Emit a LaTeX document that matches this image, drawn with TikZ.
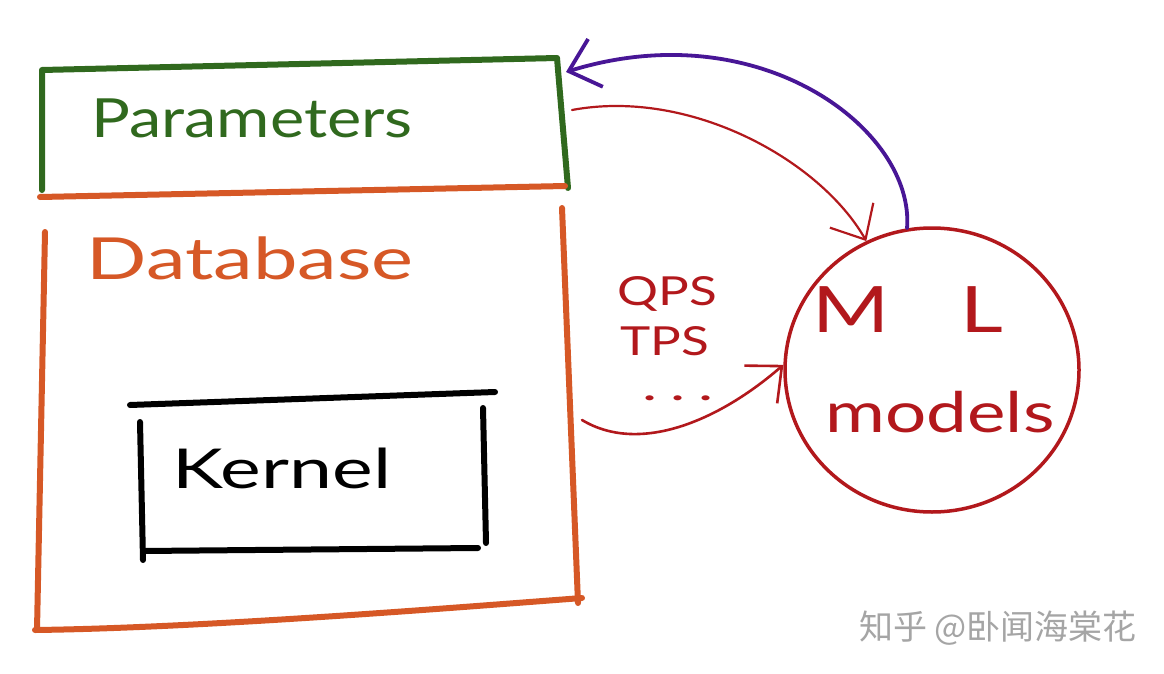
\documentclass[tikz,border=0pt]{standalone}
\usepackage{fontspec}
\setmainfont{Lato}
\newfontfamily\cjk{Noto Sans CJK SC}
\usetikzlibrary{arrows.meta,shapes.geometric}
\definecolor{pgreen}{RGB}{48,105,30}
\definecolor{dborange}{RGB}{214,88,38}
\definecolor{mlred}{RGB}{178,24,28}
\definecolor{purp}{RGB}{72,22,150}
\definecolor{wmgray}{RGB}{165,165,165}
\tikzset{
  hand/.style={line width=6pt, line cap=round, line join=round},
  arrowline/.style={line width=2.6pt, line cap=round, -{Straight Barb[length=28pt,width=50pt]}},
  label/.style={inner sep=0pt, anchor=center},
}
\begin{document}
\begin{tikzpicture}[x=1pt,y=-1pt]
\useasboundingbox[fill=white] (0,0) rectangle (1164,674);
% Parameters box
\coordinate (p1) at (42,70);
\coordinate (p2) at (557,58);
\coordinate (p3) at (568,188);
\coordinate (p4) at (42,190);
\draw[hand, pgreen] (p4) -- (p1) -- (p2) -- (p3);
\node[label, text=pgreen, font=\fontsize{54}{56}\selectfont] (ptext) at (252,118) {\scalebox{1.2}[1]{Parameters}};
% Database box
\coordinate (d1) at (40,197);
\coordinate (d2) at (565,186);
\coordinate (d3) at (562,208);
\coordinate (d4) at (578,603);
\coordinate (d5) at (37,630);
\draw[hand, dborange] (d2) -- (d1);
\draw[hand, dborange] (45,232) -- (d5);
\draw[hand, dborange] (d3) -- (d4);
\draw[hand, dborange] (35,630) .. controls (200,628) and (450,608) .. (582,598);
\node[label, text=dborange, font=\fontsize{58}{60}\selectfont] (dtext) at (250,258) {\scalebox{1.37}[1]{Database}};
% Kernel box
\draw[hand, black] (130,405) -- (495,392);
\draw[hand, black] (140,422) -- (143,560);
\draw[hand, black] (483,408) -- (486,543);
\draw[hand, black] (143,551) -- (478,548);
\node[label, text=black, font=\fontsize{55}{57}\selectfont] (ktext) at (282,468) {\scalebox{1.4}[1]{Kernel}};
% ML models circle
\node[ellipse, draw=mlred, line width=3.5pt, minimum width=294pt, minimum height=284pt, inner sep=0pt] (ml) at (932,370) {};
\node[label, text=mlred, font=\fontsize{64}{66}\selectfont] (mltext) at (908,310) {\scalebox{1.3}[1]{M\hspace{54pt}L}};
\node[label, text=mlred, font=\fontsize{56}{58}\selectfont] (modtext) at (940,412) {\scalebox{1.3}[1]{models}};
% QPS / TPS labels
\node[label, text=mlred, font=\fontsize{40}{42}\selectfont] (qps) at (667,294) {\scalebox{1.28}[1]{QPS}};
\node[label, text=mlred, font=\fontsize{40}{42}\selectfont] (tps) at (665,341) {\scalebox{1.28}[1]{TPS}};
\node[label, text=mlred, font=\fontsize{40}{42}\selectfont] (dots) at (678,398) {\scalebox{1.6}[1]{.\hspace{8pt}.\hspace{8pt}.}};
% Arrows
\coordinate (pin) at (566,72);
\coordinate (pout) at (572,110);
\coordinate (dout) at (582,420);
\draw[arrowline, purp, line width=3.8pt] (ml.100) .. controls (915,130) and (760,12) .. (pin);
\draw[arrowline, mlred, line width=2.2pt] (pout) .. controls (690,88) and (820,160) .. (ml.117);
\draw[arrowline, mlred] (dout) .. controls (640,455) and (720,420) .. (ml.178);
% Watermark
\node[label, text=wmgray, font=\cjk\fontsize{34}{36}\selectfont] (wm) at (998,628) {知乎 @卧闻海棠花};
\end{tikzpicture}
\end{document}
